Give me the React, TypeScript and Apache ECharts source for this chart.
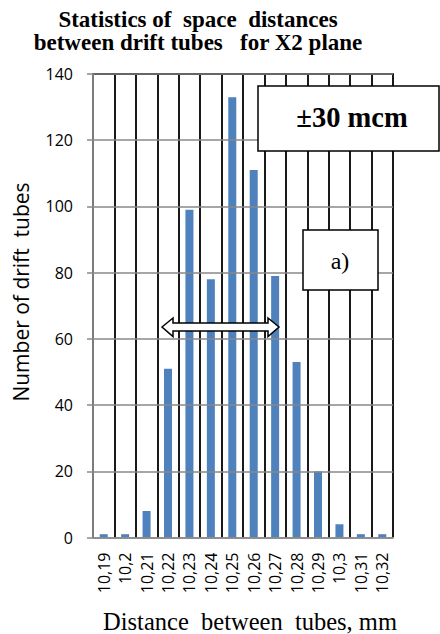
import React, { useEffect, useRef } from "react";
import * as echarts from "echarts";

const categories = ["10,19", "10,2", "10,21", "10,22", "10,23", "10,24", "10,25", "10,26", "10,27", "10,28", "10,29", "10,3", "10,31", "10,32"];
const counts = [1, 1, 8, 51, 99, 78, 133, 111, 79, 53, 20, 4, 1, 1];
const titleLines = ["Statistics of  space  distances", "between drift tubes   for X2 plane"];
const yAxisTitle = "Number of drift  tubes";
const xAxisTitle = "Distance  between  tubes, mm";
const boxLabel = "±30 mcm";
const panelLabel = "a)";

export default function App() {
  const ref = useRef<HTMLDivElement>(null);
  useEffect(() => {
    if (!ref.current) return;
    const chart = echarts.init(ref.current, null, { renderer: "svg" });
    const sans = "'Open Sans', sans-serif";
    const serif = "'Liberation Serif', 'Times New Roman', serif";
    chart.setOption({
      animation: false,
      backgroundColor: "#ffffff",
      grid: { left: 93, right: 47, top: 74, bottom: 96.5, containLabel: false },
      xAxis: [
        {
          type: "category",
          data: categories,
          position: "bottom",
          boundaryGap: true,
          axisLine: { show: true, lineStyle: { color: "#888888", width: 1.5 } },
          axisTick: { show: false },
          splitLine: {
            show: true,
            interval: 0,
            lineStyle: { color: "#000000", width: 1.8 },
          },
          axisLabel: {
            interval: 0,
            rotate: 90,
            margin: 15,
            fontFamily: sans,
            fontSize: 16,
            color: "#000000",
          },
          z: 3,
        },
        {
          type: "category",
          data: categories,
          position: "top",
          axisLine: { show: true, lineStyle: { color: "#000000", width: 1.8 } },
          axisTick: { show: false },
          axisLabel: { show: false },
          splitLine: { show: false },
        },
      ],
      yAxis: {
        type: "value",
        min: 0,
        max: 140,
        interval: 20,
        axisLine: { show: true, lineStyle: { color: "#888888", width: 1.8 } },
        axisTick: { show: true, length: 6, lineStyle: { color: "#888888", width: 1.5 } },
        splitLine: { show: true, lineStyle: { color: "#888888", width: 1.5 } },
        axisLabel: { margin: 20, fontFamily: sans, fontSize: 16, color: "#000000" },
        z: 4,
      },
      series: [
        {
          type: "bar",
          data: counts,
          barWidth: 8,
          itemStyle: { color: "#4f81bd" },
          z: 2,
        },
      ],
      graphic: [
        {
          type: "text",
          x: 198,
          y: 19,
          style: {
            text: titleLines[0],
            align: "center",
            verticalAlign: "middle",
            fontFamily: serif,
            fontWeight: "bold",
            fontSize: 23,
            fill: "#000000",
          },
        },
        {
          type: "text",
          x: 198,
          y: 42,
          style: {
            text: titleLines[1],
            align: "center",
            verticalAlign: "middle",
            fontFamily: serif,
            fontWeight: "bold",
            fontSize: 23,
            fill: "#000000",
          },
        },
        {
          type: "text",
          style: {
            text: yAxisTitle,
            fontFamily: sans,
            fontSize: 21,
            fill: "#000000",
            align: "center",
            verticalAlign: "middle",
          },
          x: 21,
          y: 292,
          rotation: Math.PI / 2,
        },
        {
          type: "text",
          style: {
            text: xAxisTitle,
            fontFamily: serif,
            fontSize: 24.5,
            fill: "#000000",
            align: "center",
            verticalAlign: "middle",
          },
          x: 250,
          y: 621,
        },
        {
          type: "rect",
          shape: { x: 258, y: 86, width: 181, height: 65 },
          style: { fill: "#ffffff", stroke: "#000000", lineWidth: 1.5 },
          z: 10,
        },
        {
          type: "text",
          style: {
            text: boxLabel,
            fontFamily: serif,
            fontWeight: "bold",
            fontSize: 28.5,
            fill: "#000000",
            align: "center",
            verticalAlign: "middle",
          },
          x: 352,
          y: 117,
          z: 11,
        },
        {
          type: "rect",
          shape: { x: 303, y: 230, width: 75, height: 60 },
          style: { fill: "#ffffff", stroke: "#000000", lineWidth: 1.5 },
          z: 10,
        },
        {
          type: "text",
          style: {
            text: panelLabel,
            fontFamily: serif,
            fontSize: 24,
            fill: "#000000",
            align: "center",
            verticalAlign: "middle",
          },
          x: 340,
          y: 261,
          z: 11,
        },
        {
          type: "polygon",
          shape: {
            points: [
              [162, 327],
              [173, 318],
              [173, 323],
              [268, 323],
              [268, 318],
              [279, 327],
              [268, 336.5],
              [268, 331],
              [173, 331],
              [173, 336.5],
            ],
          },
          style: { fill: "#ffffff", stroke: "#000000", lineWidth: 1.5 },
          z: 10,
        },
      ],
    });
    return () => chart.dispose();
  }, []);
  return <div ref={ref} style={{ width: 440, height: 634, position: "absolute", left: 0, top: 0 }} />;
}
